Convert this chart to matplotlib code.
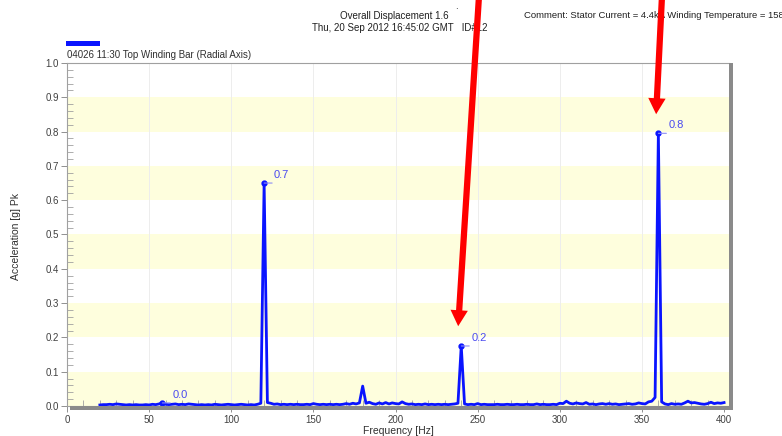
import numpy as np
import matplotlib
matplotlib.use("Agg")
import matplotlib.pyplot as plt
from matplotlib.patches import Rectangle, FancyArrowPatch
from matplotlib.ticker import MultipleLocator

plt.rcParams['font.family'] = ['Liberation Sans', 'DejaVu Sans']

# ---- data ----
freq_start, freq_step = 20, 2
accel = [
    0.003, 0.004, 0.004, 0.005, 0.004, 0.006, 0.005, 0.004, 0.003, 0.004,   # 20-38
    0.003, 0.004, 0.003, 0.003, 0.004, 0.003, 0.005, 0.004, 0.006, 0.009,   # 40-58
    0.005, 0.004, 0.005, 0.006, 0.004, 0.005, 0.004, 0.006, 0.005, 0.004,   # 60-78
    0.003, 0.004, 0.003, 0.004, 0.003, 0.005, 0.004, 0.003, 0.004, 0.005,   # 80-98
    0.004, 0.003, 0.004, 0.005, 0.004, 0.003, 0.004, 0.003, 0.005, 0.008,   # 100-118
    0.650, 0.010, 0.008, 0.005, 0.006, 0.004, 0.005, 0.004, 0.005, 0.004,   # 120-138
    0.005, 0.004, 0.004, 0.005, 0.004, 0.007, 0.005, 0.004, 0.005, 0.004,   # 140-158
    0.005, 0.004, 0.005, 0.004, 0.005, 0.007, 0.005, 0.008, 0.006, 0.009,   # 160-178
    0.058, 0.008, 0.011, 0.007, 0.005, 0.009, 0.006, 0.010, 0.006, 0.009,   # 180-198
    0.007, 0.006, 0.012, 0.007, 0.005, 0.006, 0.004, 0.005, 0.004, 0.006,   # 200-218
    0.004, 0.005, 0.004, 0.005, 0.004, 0.005, 0.004, 0.005, 0.006, 0.008,   # 220-238
    0.175, 0.006, 0.004, 0.005, 0.004, 0.007, 0.004, 0.005, 0.004, 0.004,   # 240-258
    0.004, 0.005, 0.004, 0.004, 0.005, 0.004, 0.004, 0.005, 0.004, 0.004,   # 260-278
    0.005, 0.004, 0.004, 0.006, 0.004, 0.005, 0.004, 0.004, 0.005, 0.004,   # 280-298
    0.008, 0.007, 0.014, 0.008, 0.006, 0.009, 0.007, 0.006, 0.010, 0.005,   # 300-318
    0.006, 0.004, 0.006, 0.007, 0.005, 0.007, 0.005, 0.006, 0.004, 0.005,   # 320-338
    0.006, 0.007, 0.005, 0.006, 0.009, 0.007, 0.006, 0.012, 0.014, 0.025,   # 340-358
    0.795, 0.012, 0.006, 0.004, 0.007, 0.005, 0.006, 0.005, 0.009, 0.014,   # 360-378
    0.009, 0.010, 0.008, 0.006, 0.005, 0.007, 0.011, 0.007, 0.009, 0.008,   # 380-398
    0.010,                                                                  # 400
]
freqs = freq_start + freq_step * np.arange(len(accel))

label_freqs = [58, 120, 240, 360]
label_values = [0.009, 0.650, 0.175, 0.795]
label_texts = ["0.0", "0.7", "0.2", "0.8"]

band_starts = [0.0, 0.2, 0.4, 0.6, 0.8]
x_ticks = [0, 50, 100, 150, 200, 250, 300, 350, 400]
y_ticks = [0.0, 0.1, 0.2, 0.3, 0.4, 0.5, 0.6, 0.7, 0.8, 0.9, 1.0]

W, H = 782, 436
fig = plt.figure(figsize=(W / 100, H / 100), dpi=100)

def fx(px):
    return px / W

def fy(py):
    return 1 - py / H

ax_l, ax_r, ax_t, ax_b = 67, 729, 63, 406
ax = fig.add_axes([fx(ax_l), fy(ax_b), (ax_r - ax_l) / W, (ax_b - ax_t) / H])

for b in band_starts:
    ax.axhspan(b, b + 0.1, color='#fefedd', lw=0, zorder=0)
for xt in x_ticks[1:-1]:
    ax.axvline(xt, color='#ededed', lw=0.7, zorder=0.5)

ax.plot(freqs, accel, color='#0a14ff', lw=2.0, zorder=3, solid_joinstyle='round')

for f, v, t in zip(label_freqs, label_values, label_texts):
    ax.plot([f], [v], 'o', color='#0a14ff', ms=3.5, zorder=4)
    ax.annotate('', xy=(f, v), xytext=(8, 0), textcoords='offset pixels',
                arrowprops=dict(arrowstyle='-', color='#8c8cf5', lw=0.8,
                                shrinkA=0, shrinkB=0), zorder=4)
    ax.annotate(t, xy=(f, v), xytext=(10, 8), textcoords='offset pixels',
                ha='left', va='center', fontsize=8, color='#4a4af0', zorder=5)

ax.set_xlim(0, 403)
ax.set_ylim(0, 1.0)
ax.set_xticks(x_ticks)
ax.set_yticks(y_ticks)
ax.set_yticklabels([f"{v:.1f}" for v in y_ticks])
ax.xaxis.set_minor_locator(MultipleLocator(10))
ax.yaxis.set_minor_locator(MultipleLocator(0.02))
ax.tick_params(axis='both', which='major', direction='out', length=4,
               width=0.7, color='#909090', labelsize=7, labelcolor='#404040', pad=2)
ax.tick_params(axis='x', which='major', pad=2.5)
ax.tick_params(axis='both', which='minor', direction='in', length=4,
               width=0.6, color='#a0a0a0')
for s in ['left', 'top']:
    ax.spines[s].set_color('#a0a0a0')
    ax.spines[s].set_linewidth(0.8)
ax.spines['right'].set_visible(False)
ax.spines['bottom'].set_color('#a0a0a0')
ax.spines['bottom'].set_linewidth(0.8)

fig.text(fx(398), fy(430.5), 'Frequency [Hz]', ha='center', va='center',
         fontsize=7.5, color='#303030')
fig.text(fx(16), fy(236), 'Acceleration [g] Pk', ha='center', va='center',
         rotation=90, fontsize=7.5, color='#303030')

# shadows
fig.add_artist(Rectangle((fx(70), fy(410)), (733 - 70) / W, 4 / H,
                         transform=fig.transFigure, color='#8a8a8a', lw=0, zorder=5))
fig.add_artist(Rectangle((fx(729), fy(410)), 4 / W, (410 - 63) / H,
                         transform=fig.transFigure, color='#8a8a8a', lw=0, zorder=5))

# header texts
fig.text(fx(449), fy(16), 'Overall Displacement 1.6', ha='right', va='center',
         fontsize=7, color='#202020')
fig.text(fx(312), fy(28), 'Thu, 20 Sep 2012 16:45:02 GMT   ID#12', ha='left',
         va='center', fontsize=7, color='#202020')
fig.text(fx(524), fy(16), 'Comment: Stator Current = 4.4kA Winding Temperature = 158F',
         ha='left', va='center', fontsize=6.8, color='#202020')
fig.text(fx(456), fy(6), '.', ha='center', va='center', fontsize=7, color='#202020')

# legend
fig.add_artist(Rectangle((fx(66), fy(46)), 34 / W, 5 / H, transform=fig.transFigure,
                         color='#0a14ff', lw=0))
fig.text(fx(67), fy(55), '04026 11:30 Top Winding Bar (Radial Axis)', ha='left',
         va='center', fontsize=7, color='#303030')

# red arrows (overlaid)
for (x0, y0), (x1, y1) in [((479, -4), (458, 329)), ((662, -4), (656, 117))]:
    arr = FancyArrowPatch((fx(x0), fy(y0)), (fx(x1), fy(y1)),
                          transform=fig.transFigure,
                          arrowstyle='simple,head_length=1.15,head_width=1.25,tail_width=0.45',
                          mutation_scale=10, color='#ff0000', lw=0, zorder=10)
    fig.add_artist(arr)

fig.savefig('out.png', dpi=100)
